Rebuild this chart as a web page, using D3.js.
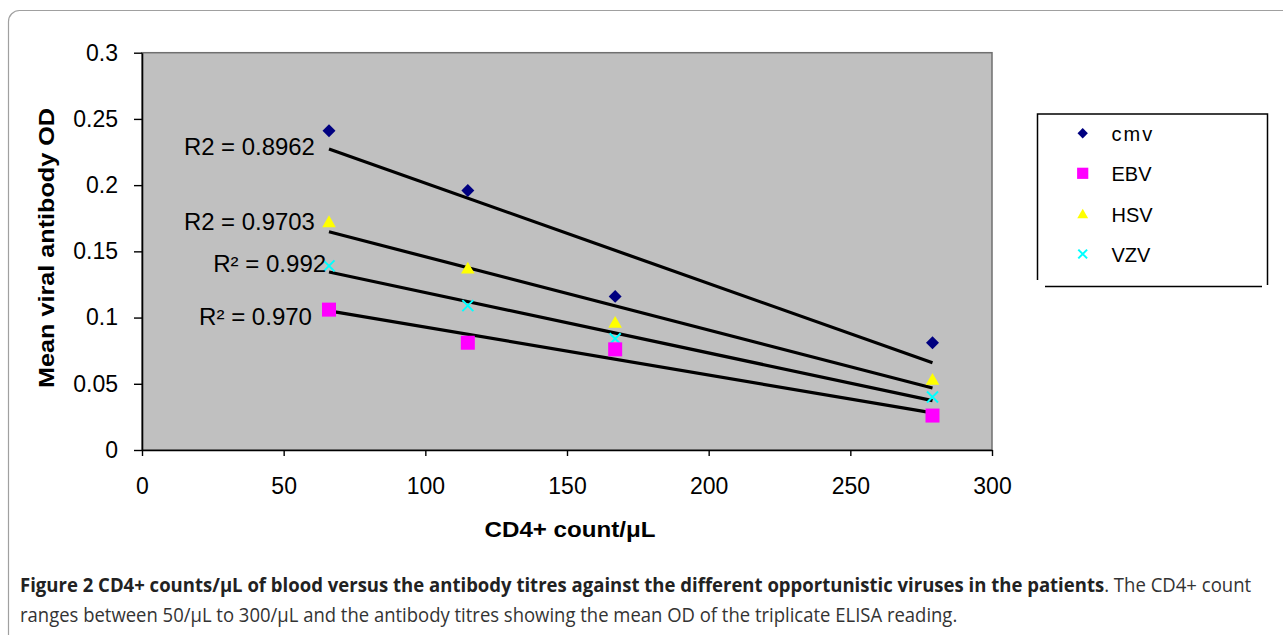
<!DOCTYPE html>
<html><head><meta charset="utf-8">
<script src="https://cdn.jsdelivr.net/npm/d3@7"></script>
<style>body{margin:0;background:#fff;} svg{display:block;}</style>
</head><body><svg id="c" width="1283" height="635"></svg>
<script>
// ---- data ----
const cd4Counts = [66, 115, 167, 279];
const seriesNames = ["cmv", "EBV", "HSV", "VZV"];
const cmvOD = [0.241, 0.196, 0.116, 0.081];
const ebvOD = [0.106, 0.081, 0.076, 0.026];
const hsvOD = [0.172, 0.137, 0.096, 0.053];
const vzvOD = [0.139, 0.109, 0.084, 0.040];
const xTicks = [0, 50, 100, 150, 200, 250, 300];
const yTicks = [0, 0.05, 0.1, 0.15, 0.2, 0.25, 0.3];
const yTickLabels = ["0", "0.05", "0.1", "0.15", "0.2", "0.25", "0.3"];
const r2Labels = ["R2 = 0.8962", "R2 = 0.9703", "R\u00B2 = 0.992", "R\u00B2 = 0.970"];
const r2Series = ["cmv", "HSV", "VZV", "EBV"];
// annotation anchors (data units: x of right end, y of baseline)
const r2AnchorX = [61, 61, 65, 60];
const r2AnchorY = [0.2227, 0.1661, 0.1344, 0.0944];

const seriesValues = {cmv: cmvOD, EBV: ebvOD, HSV: hsvOD, VZV: vzvOD};
const colors = {cmv: "#000080", EBV: "#ff00ff", HSV: "#ffff00", VZV: "#00ffff"};

const svg = d3.select("#c");
const FONT = "'Liberation Sans', Arial, sans-serif";

function fit(t, w) {
  const bw = t.node().getComputedTextLength();
  const cur = t.attr("transform") || "";
  t.attr("transform", cur + ` scale(${w / bw},1)`);
}

// outer frame
svg.append("rect").attr("x", 8.5).attr("y", 10.5).attr("width", 1320).attr("height", 640)
  .attr("rx", 11).attr("fill", "none").attr("stroke", "#a0a0a0").attr("stroke-width", 1.2);

const x = d3.scaleLinear().domain([0, 300]).range([142, 992]);
const y = d3.scaleLinear().domain([0, 0.3]).range([450, 52.7]);

// plot area
svg.append("rect").attr("x", x(0)).attr("y", y(0.3)).attr("width", x(300) - x(0)).attr("height", y(0) - y(0.3))
  .attr("fill", "#c0c0c0").attr("stroke", "#707070").attr("stroke-width", 1.5);

// axes
const yAxis = svg.append("g").attr("transform", `translate(${x(0)},0)`)
  .call(d3.axisLeft(y).tickValues(yTicks).tickSize(8).tickSizeOuter(0).tickPadding(16)
    .tickFormat((d, i) => yTickLabels[i]));
const xAxis = svg.append("g").attr("transform", `translate(0,${y(0)})`)
  .call(d3.axisBottom(x).tickValues(xTicks).tickSize(6).tickSizeOuter(0).tickPadding(22)
    .tickFormat(d => String(d)));
[xAxis, yAxis].forEach(a => {
  a.select(".domain").attr("stroke", "#000").attr("stroke-width", 1.6);
  a.selectAll(".tick line").attr("stroke", "#000").attr("stroke-width", 1.4);
  a.selectAll(".tick text").attr("font-family", FONT).attr("font-size", 23).attr("fill", "#000");
});

// trend lines (least squares fit of each series)
function fitLine(xs, ys) {
  const mx = d3.mean(xs), my = d3.mean(ys);
  let sxy = 0, sxx = 0;
  xs.forEach((v, i) => { sxy += (v - mx) * (ys[i] - my); sxx += (v - mx) * (v - mx); });
  const b = sxy / sxx, a = my - b * mx;
  return v => a + b * v;
}
const xMin = d3.min(cd4Counts), xMax = d3.max(cd4Counts);
seriesNames.forEach(s => {
  const f = fitLine(cd4Counts, seriesValues[s]);
  svg.append("line").attr("x1", x(xMin)).attr("y1", y(f(xMin))).attr("x2", x(xMax)).attr("y2", y(f(xMax)))
    .attr("stroke", "#000").attr("stroke-width", 3.2);
});

// markers
function marker(g, s, cx, cy, scale) {
  const k = scale || 1;
  if (s === "cmv") {
    g.append("path").attr("d", d3.symbol(d3.symbolSquare, 84 * k * k)())
      .attr("transform", `translate(${cx},${cy}) rotate(45)`).attr("fill", colors[s]);
  } else if (s === "EBV") {
    g.append("path").attr("d", d3.symbol(d3.symbolSquare, 196 * k * k)())
      .attr("transform", `translate(${cx},${cy})`).attr("fill", colors[s]);
  } else if (s === "HSV") {
    g.append("path").attr("d", d3.symbol(d3.symbolTriangle, 80 * k * k)())
      .attr("transform", `translate(${cx},${cy + 1})`).attr("fill", colors[s]);
  } else {
    const h = 5.5 * k;
    g.append("path").attr("d", `M${-h},${-h}L${h},${h}M${-h},${h}L${h},${-h}`)
      .attr("transform", `translate(${cx},${cy})`).attr("stroke", colors[s]).attr("stroke-width", 2).attr("fill", "none");
  }
}
const mg = svg.append("g");
["VZV", "EBV", "HSV", "cmv"].forEach(s => {
  seriesValues[s].forEach((v, i) => marker(mg, s, x(cd4Counts[i]), y(v), 1));
});

// R2 labels
r2Labels.forEach((t, i) => {
  const w = t.startsWith("R2") ? 131 : 113;
  const tx = svg.append("text").attr("transform", `translate(${x(r2AnchorX[i])},${y(r2AnchorY[i])})`)
    .attr("text-anchor", "end").attr("font-family", FONT).attr("font-size", 23).attr("fill", "#000")
    .text(t);
  fit(tx, w);
});

// axis titles
const xt = svg.append("text").attr("transform", "translate(570,536.5)").attr("text-anchor", "middle")
  .attr("font-family", FONT).attr("font-size", 22).attr("font-weight", "bold").text("CD4+ count/\u03BCL");
fit(xt, 171);
const yt = svg.append("text").attr("transform", "translate(54,248) rotate(-90)").attr("text-anchor", "middle")
  .attr("font-family", FONT).attr("font-size", 22).attr("font-weight", "bold").text("Mean viral antibody OD");
fit(yt, 280);

// legend (clipped at bottom as in source)
const lg = svg.append("g");
lg.append("path").attr("d", "M1037.5,280 L1037.5,114 L1267.5,114 L1267.5,285")
  .attr("fill", "none").attr("stroke", "#000").attr("stroke-width", 1.5);
lg.append("line").attr("x1", 1045).attr("x2", 1262).attr("y1", 286.5).attr("y2", 286.5)
  .attr("stroke", "#000").attr("stroke-width", 1.5);
const legendY = [133.3, 173.3, 214, 254];
seriesNames.forEach((s, i) => {
  marker(lg, s, 1082.7, legendY[i], 0.8);
  lg.append("text").attr("transform", `translate(1111.5,${legendY[i] + 7.5})`)
    .attr("font-family", FONT).attr("font-size", 20).attr("fill", "#000")
    .attr("letter-spacing", s === "cmv" ? 2 : 0).text(s);
});

// caption
const CF = "'Open Sans', 'Noto Sans', sans-serif";
const c1 = svg.append("text").attr("transform", "translate(20,592)").attr("font-family", CF).attr("font-size", 19.5).attr("fill", "#222");
c1.append("tspan").attr("font-weight", "bold").text("Figure 2 CD4+ counts/\u03BCL of blood versus the antibody titres against the different opportunistic viruses in the patients");
c1.append("tspan").attr("fill", "#333").text(". The CD4+ count");
fit(c1, 1232);
const c2 = svg.append("text").attr("transform", "translate(20,622)").attr("font-family", CF).attr("font-size", 19.5).attr("fill", "#333")
  .text("ranges between 50/\u03BCL to 300/\u03BCL and the antibody titres showing the mean OD of the triplicate ELISA reading.");
fit(c2, 938);
</script></body></html>
